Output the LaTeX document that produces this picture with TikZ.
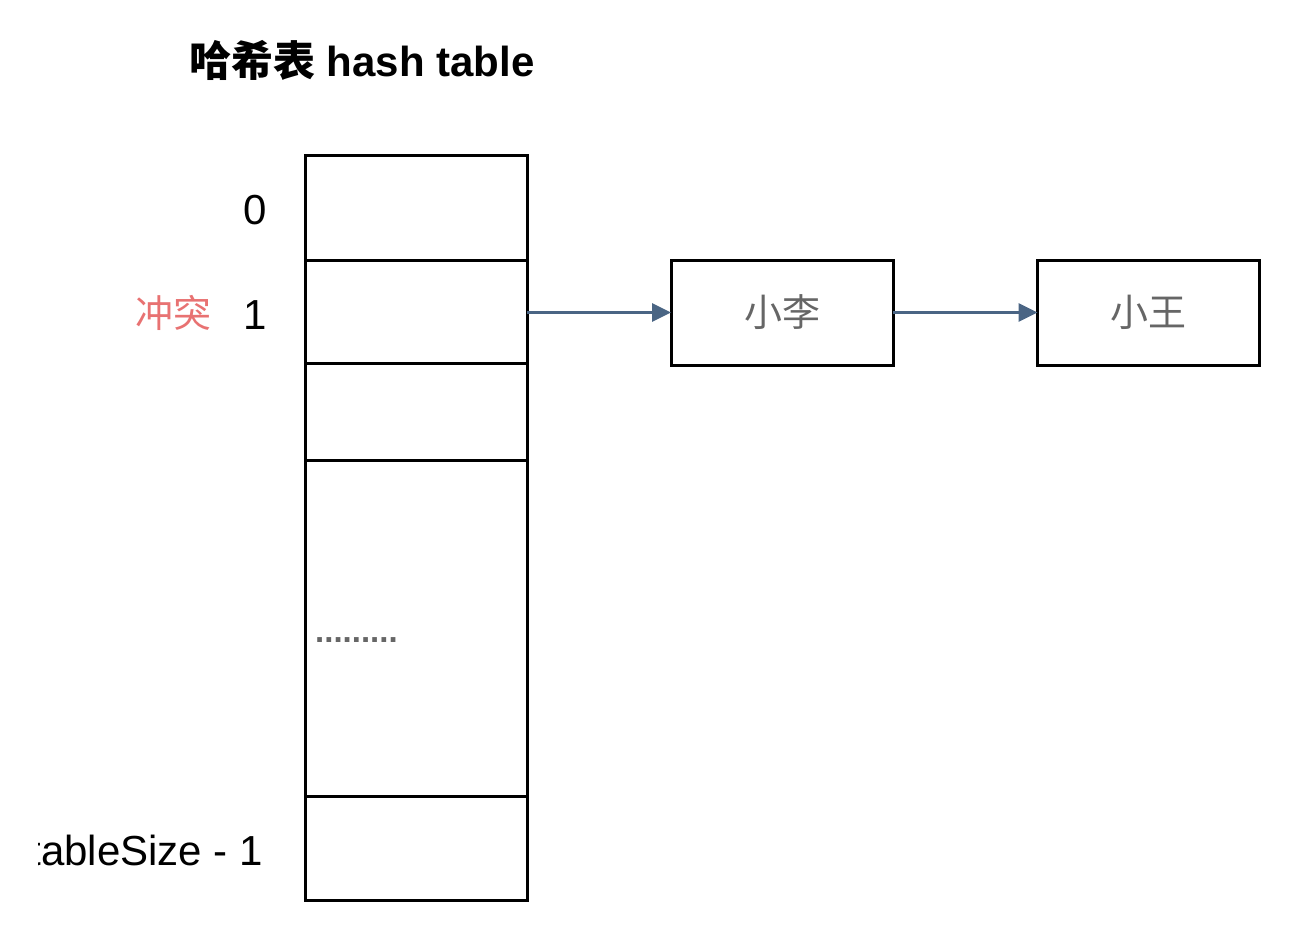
\documentclass[tikz,border=0pt]{standalone}
\usepackage{fontspec}
\setmainfont{Liberation Sans}
\newfontfamily\cjk{Noto Sans CJK SC}
\usetikzlibrary{arrows.meta}
\definecolor{arrowblue}{HTML}{4A6584}
\definecolor{conflictred}{HTML}{E87272}
\definecolor{textgray}{HTML}{666666}
\tikzset{
  cell/.style={draw=black, line width=3pt, minimum width=222pt, inner sep=0pt, outer sep=0pt},
  listbox/.style={draw=black, line width=3pt, minimum width=222pt, minimum height=105pt, inner sep=0pt, outer sep=0pt, text=textgray, font=\cjk\fontsize{38}{42}\selectfont},
  link/.style={draw=arrowblue, line width=3.3pt, -{Triangle[length=19pt,width=18pt]}},
  idx/.style={font=\fontsize{42}{46}\selectfont, inner sep=0pt},
}
\begin{document}
\begin{tikzpicture}[x=1pt,y=-1pt]
\useasboundingbox (0,0) rectangle (1315,938);
\node[anchor=west, inner sep=0pt, font=\bfseries\fontsize{42}{46}\selectfont] (title) at (189,60) {{\cjk 哈希表} hash table};
\node[cell, minimum height=105pt] (c0) at (416,207.5) {};
\node[cell, minimum height=103pt] (c1) at (416,311.5) {};
\node[cell, minimum height=97pt] (c2) at (416,411.5) {};
\node[cell, minimum height=336pt] (c3) at (416,628) {};
\node[cell, minimum height=104pt] (c4) at (416,848) {};
\node[anchor=west, inner sep=0pt, text=textgray, font=\bfseries\fontsize{33}{36}\selectfont] (dots) at (315,640) {.........};
\node[idx] (l0) at (255,210) {0};
\node[idx] (l1) at (255,315) {1};
\node[inner sep=0pt, text=conflictred, font=\cjk\fontsize{38}{42}\selectfont] (conf) at (173,313) {冲突};
\begin{scope}
\clip (38,780) rectangle (300,920);
\node[idx, anchor=east] (ln) at (263,850) {tableSize - 1};
\end{scope}
\node[listbox] (li) at (782,312.5) {小李};
\node[listbox] (wang) at (1148.5,312.5) {小王};
\draw[link] (c1.east |- li.west) -- (li.west);
\draw[link] (li.east) -- (wang.west);
\end{tikzpicture}
\end{document}
